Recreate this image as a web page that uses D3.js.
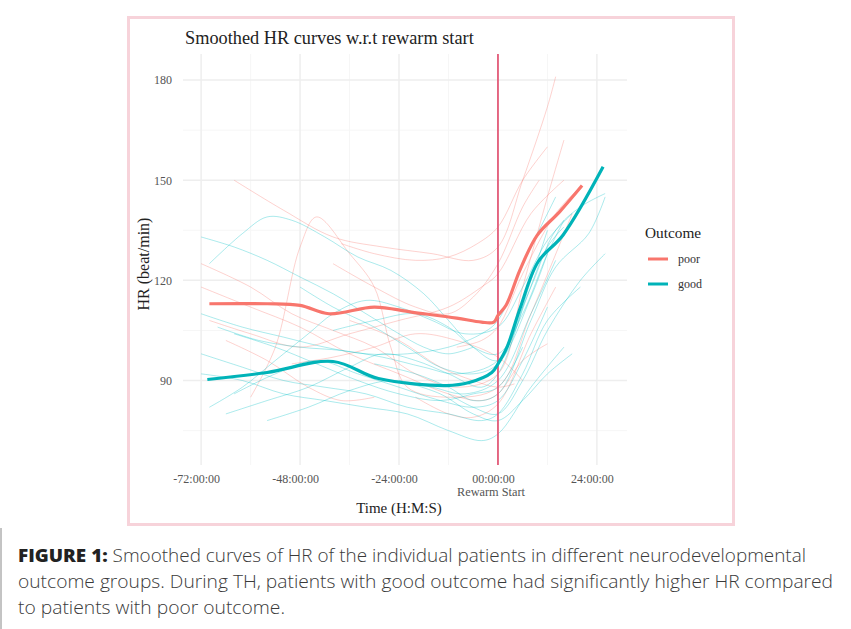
<!DOCTYPE html>
<html>
<head>
<meta charset="utf-8">
<script src="https://cdn.jsdelivr.net/npm/d3@7"></script>
<style>
  body { margin: 0; background: #fff; }
  #wrapper { width: 851px; height: 629px; }
</style>
</head>
<body>
<div id="wrapper"></div>
<script>
// hours from rewarm start, HR in beat/min
const xTicks = [-72, -48, -24, 0, 24]
const xTickLabels = ["-72:00:00", "-48:00:00", "-24:00:00", "00:00:00", "24:00:00"]
const yTicks = [90, 120, 150, 180]

const poorMean = [[-70, 113], [-56, 113], [-48, 112.5], [-41, 110], [-30, 112], [-21, 110.5], [-10, 108.7], [-4, 107.5], [-1, 107.5], [0, 109.5], [2, 112.6], [5.3, 123], [9.5, 133.5], [15, 140.6], [20.4, 148.4]]
const goodMean = [[-70.5, 90.3], [-56, 92.4], [-40, 95.7], [-29, 90.6], [-12.5, 88.5], [-7, 89.4], [-1.5, 92.4], [0, 95], [2.2, 100], [5.3, 111.4], [9.7, 125.5], [15.8, 133.6], [25.5, 154]]

const poorPatients = [
    [[-64, 150], [-52, 141], [-40, 133], [-28, 130], [-16, 128], [-6, 126], [0, 130], [6, 150], [12, 172], [14, 181]],
    [[-72, 125], [-60, 118], [-50, 110], [-40, 105], [-30, 100], [-20, 92], [-10, 88], [0, 92], [6, 118], [12, 145], [16, 162]],
    [[-60, 85], [-54, 100], [-48, 130], [-44, 139], [-36, 128], [-30, 118], [-26, 100], [-22, 88], [-12, 85], [0, 88], [8, 110], [18, 140]],
    [[-70, 108], [-60, 104], [-48, 100], [-36, 104], [-24, 108], [-12, 112], [-4, 118], [0, 122], [8, 140], [16, 150]],
    [[-38, 131], [-30, 128], [-20, 126], [-12, 127], [-5, 131], [0, 136], [6, 150], [12, 160]],
    [[-72, 118], [-60, 112], [-48, 106], [-36, 98], [-24, 92], [-12, 86], [-4, 84], [0, 86], [6, 96], [12, 101]],
    [[-50, 95], [-40, 97], [-30, 100], [-20, 104], [-10, 102], [0, 97], [6, 90]],
    [[-36, 108], [-24, 102], [-14, 94], [-6, 90], [0, 88], [4, 89]],
    [[-20, 85], [-12, 80], [-6, 79], [0, 83], [8, 104], [14, 118]],
    [[-66, 102], [-56, 96], [-46, 88], [-38, 84], [-30, 85]],
    [[-40, 125], [-30, 118], [-20, 112], [-12, 110], [-6, 115], [0, 125], [6, 142], [10, 150]],
    [[-10, 100], [-4, 102], [0, 106], [6, 122], [14, 140], [20, 148]]
]

const goodPatients = [
    [[-70, 125], [-62, 134], [-56, 139], [-50, 138], [-42, 133], [-34, 127], [-26, 123], [-18, 116], [-12, 108], [-6, 100], [0, 96], [6, 112], [12, 130], [16, 136]],
    [[-72, 133], [-64, 130], [-56, 126], [-48, 121], [-40, 116], [-32, 110], [-24, 104], [-18, 100], [-12, 98], [-6, 100]],
    [[-70, 82], [-62, 88], [-54, 96], [-46, 104], [-40, 110], [-32, 114], [-24, 112], [-16, 108], [-8, 104], [0, 106], [6, 118], [12, 132], [18, 140]],
    [[-72, 98], [-62, 94], [-52, 90], [-42, 88], [-32, 86], [-22, 82], [-12, 80], [-4, 78], [0, 80], [6, 92], [12, 108], [20, 118]],
    [[-68, 106], [-58, 102], [-48, 100], [-38, 99], [-28, 97], [-18, 94], [-10, 92], [0, 96], [8, 118], [14, 135], [20, 142], [26, 146]],
    [[-64, 86], [-54, 92], [-44, 96], [-34, 92], [-24, 88], [-14, 84], [-6, 82], [0, 84], [6, 96], [12, 112]],
    [[-72, 92], [-62, 90], [-52, 86], [-42, 84], [-32, 82], [-22, 80], [-12, 75], [-4, 72], [0, 74], [8, 88], [16, 100]],
    [[-56, 78], [-46, 82], [-36, 87], [-26, 90], [-16, 88], [-8, 86], [0, 90], [8, 110], [14, 126]],
    [[-66, 80], [-56, 84], [-46, 88], [-36, 94], [-28, 98], [-20, 96], [-12, 92], [-4, 88], [0, 92], [8, 120], [12, 135]],
    [[-40, 105], [-30, 108], [-20, 110], [-12, 106], [-6, 100], [0, 98], [6, 110], [12, 128], [16, 138]],
    [[-30, 95], [-20, 92], [-12, 88], [-6, 84], [0, 86], [8, 108], [14, 124], [22, 134], [26, 145]],
    [[-24, 90], [-14, 86], [-6, 80], [0, 78], [6, 84], [12, 92], [18, 98]],
    [[-72, 110], [-62, 106], [-52, 103], [-42, 100], [-32, 98], [-22, 98], [-12, 100], [-4, 104], [0, 108], [6, 125], [12, 140], [14, 145]],
    [[-48, 118], [-40, 112], [-30, 106], [-22, 100], [-14, 94], [-6, 92], [0, 95], [8, 115], [12, 128]],
    [[-64, 104], [-54, 100], [-44, 95], [-34, 90], [-24, 86], [-14, 84], [-6, 86], [0, 88], [6, 100]],
    [[-12, 86], [-6, 82], [0, 80], [6, 90], [12, 105], [20, 120], [26, 128]]
]

const outcomes = ["poor", "good"]
const captionLines = [
    "Smoothed curves of HR of the individual patients in different neurodevelopmental",
    "outcome groups. During TH, patients with good outcome had significantly higher HR compared",
    "to patients with poor outcome."
]

function drawChart() {
    const dimensions = {
        width: 851,
        height: 629,
        panel: { left: 183, right: 627, top: 54, bottom: 465 },
    }
    const colors = { poor: "#f8766d", good: "#00bfc4" }
    const serif = "'Liberation Serif', 'Times New Roman', serif"

    const svg = d3.select("#wrapper")
        .append("svg")
        .attr("width", dimensions.width)
        .attr("height", dimensions.height)

    // figure frame
    svg.append("rect")
        .attr("x", 128.5).attr("y", 17.5)
        .attr("width", 605).attr("height", 507)
        .attr("fill", "#fff")
        .attr("stroke", "#f7d3da")
        .attr("stroke-width", 3)

    svg.append("line")
        .attr("x1", 1).attr("x2", 1)
        .attr("y1", 528).attr("y2", 629)
        .attr("stroke", "#888")

    const p = dimensions.panel
    const xScale = d3.scaleLinear().domain([-76.4, 31.3]).range([p.left, p.right])
    const yScale = d3.scaleLinear().domain([64.7, 187.8]).range([p.bottom, p.top])

    // grid
    const grid = svg.append("g")
    const minorX = xTicks.slice(0, -1).map(d => d + 12)
    const minorY = [75, 105, 135, 165]
    grid.selectAll(".minx").data(minorX).join("line")
        .attr("x1", d => xScale(d)).attr("x2", d => xScale(d))
        .attr("y1", p.top).attr("y2", p.bottom)
        .attr("stroke", "#f6f6f6").attr("stroke-width", 1)
    grid.selectAll(".miny").data(minorY).join("line")
        .attr("y1", d => yScale(d)).attr("y2", d => yScale(d))
        .attr("x1", p.left).attr("x2", p.right)
        .attr("stroke", "#f6f6f6").attr("stroke-width", 1)
    grid.selectAll(".majx").data(xTicks).join("line")
        .attr("x1", d => xScale(d)).attr("x2", d => xScale(d))
        .attr("y1", p.top).attr("y2", p.bottom)
        .attr("stroke", "#eeeeee").attr("stroke-width", 1.5)
    grid.selectAll(".majy").data(yTicks).join("line")
        .attr("y1", d => yScale(d)).attr("y2", d => yScale(d))
        .attr("x1", p.left).attr("x2", p.right)
        .attr("stroke", "#eeeeee").attr("stroke-width", 1.5)

    const lineGen = d3.line()
        .x(d => xScale(d[0]))
        .y(d => yScale(d[1]))
        .curve(d3.curveCatmullRom)

    // individual patients
    svg.append("g").selectAll("path")
        .data(poorPatients).join("path")
        .attr("d", lineGen)
        .attr("fill", "none")
        .attr("stroke", colors.poor)
        .attr("stroke-opacity", 0.33)
        .attr("stroke-width", 1)
    svg.append("g").selectAll("path")
        .data(goodPatients).join("path")
        .attr("d", lineGen)
        .attr("fill", "none")
        .attr("stroke", colors.good)
        .attr("stroke-opacity", 0.33)
        .attr("stroke-width", 1)

    // rewarm start marker
    svg.append("line")
        .attr("x1", xScale(0)).attr("x2", xScale(0))
        .attr("y1", p.top).attr("y2", p.bottom)
        .attr("stroke", "#e35a78")
        .attr("stroke-width", 1.8)

    // group means
    svg.append("path")
        .attr("d", lineGen(poorMean))
        .attr("fill", "none")
        .attr("stroke", colors.poor)
        .attr("stroke-width", 3.2)
    svg.append("path")
        .attr("d", lineGen(goodMean))
        .attr("fill", "none")
        .attr("stroke", "#00b3b8")
        .attr("stroke-width", 3.2)

    // axes
    const xAxis = svg.append("g")
        .attr("transform", `translate(0,${p.bottom})`)
        .call(d3.axisBottom(xScale).tickValues(xTicks).tickFormat((d, i) => xTickLabels[i]).tickSize(0).tickPadding(9))
    xAxis.select(".domain").remove()
    xAxis.selectAll("text").attr("font-family", serif).attr("font-size", 12).attr("fill", "#555").attr("dx", -5)

    const yAxis = svg.append("g")
        .attr("transform", `translate(${p.left},0)`)
        .call(d3.axisLeft(yScale).tickValues(yTicks).tickSize(0).tickPadding(11))
    yAxis.select(".domain").remove()
    yAxis.selectAll("text").attr("font-family", serif).attr("font-size", 12).attr("fill", "#555")

    svg.append("text")
        .attr("x", xScale(0) - 7).attr("y", 496)
        .attr("text-anchor", "middle")
        .attr("font-family", serif).attr("font-size", 12.3).attr("fill", "#555")
        .text("Rewarm Start")

    svg.append("text")
        .attr("x", 399).attr("y", 513)
        .attr("text-anchor", "middle")
        .attr("font-family", serif).attr("font-size", 15).attr("fill", "#222")
        .text("Time (H:M:S)")

    svg.append("text")
        .attr("transform", "translate(149,264) rotate(-90)")
        .attr("text-anchor", "middle")
        .attr("font-family", serif).attr("font-size", 16).attr("fill", "#222")
        .text("HR (beat/min)")

    svg.append("text")
        .attr("x", 185).attr("y", 44)
        .attr("font-family", serif).attr("font-size", 18.3).attr("fill", "#222")
        .text("Smoothed HR curves w.r.t rewarm start")

    // legend
    const legend = svg.append("g").attr("transform", "translate(645,0)")
    legend.append("text")
        .attr("x", 0).attr("y", 238)
        .attr("font-family", serif).attr("font-size", 15.3).attr("fill", "#222")
        .text("Outcome")
    const keys = legend.selectAll(".key").data(outcomes).join("g")
        .attr("transform", (d, i) => `translate(0,${259 + i * 25})`)
    keys.append("line")
        .attr("x1", 3).attr("x2", 23)
        .attr("stroke", d => d === "poor" ? colors.poor : "#00b3b8")
        .attr("stroke-width", 3)
    keys.append("text")
        .attr("x", 33).attr("y", 3.5)
        .attr("font-family", serif).attr("font-size", 12).attr("fill", "#333")
        .text(d => d)

    // caption
    const caption = svg.append("g")
        .attr("font-family", "'Open Sans', sans-serif")
        .attr("font-size", 18)
        .attr("fill", "#3a3a3a")
        .attr("lengthAdjust", "spacingAndGlyphs")
    const first = caption.append("text").attr("x", 18).attr("y", 562)
        .attr("textLength", 788).attr("lengthAdjust", "spacingAndGlyphs")
    first.append("tspan").attr("font-weight", 800).attr("fill", "#222").text("FIGURE 1:")
    first.append("tspan").attr("font-weight", 300).text(" " + captionLines[0])
    caption.append("text").attr("x", 18).attr("y", 588).attr("font-weight", 300)
        .attr("textLength", 815).attr("lengthAdjust", "spacingAndGlyphs")
        .text(captionLines[1])
    caption.append("text").attr("x", 18).attr("y", 614).attr("font-weight", 300)
        .attr("textLength", 267).attr("lengthAdjust", "spacingAndGlyphs")
        .text(captionLines[2])
}

drawChart()
</script>
</body>
</html>
